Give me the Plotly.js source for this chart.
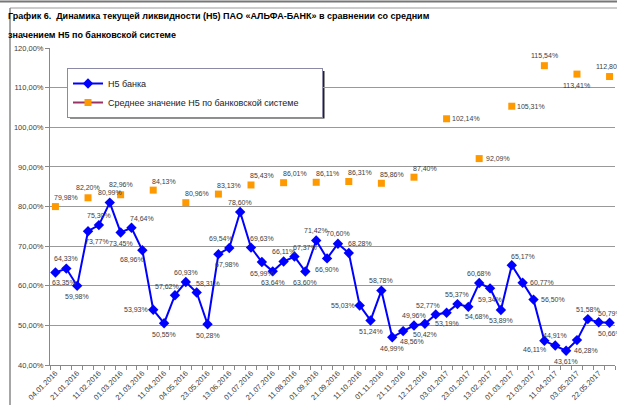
<!DOCTYPE html>
<html>
<head>
<meta charset="utf-8">
<script src="https://cdn.plot.ly/plotly-3.0.1.min.js"></script>
<style>
  html, body { margin: 0; padding: 0; background: #fff; }
  #myPlot { width: 617px; height: 405px; }
</style>
</head>
<body>
<div id="myPlot"></div>
<script>
// tick labels, one per two categories
var dateLabels = ["04.01.2016", "21.01.2016", "11.02.2016", "01.03.2016", "21.03.2016", "11.04.2016",
  "04.05.2016", "23.05.2016", "13.06.2016", "01.07.2016", "21.07.2016", "11.08.2016", "01.09.2016",
  "21.09.2016", "11.10.2016", "01.11.2016", "21.11.2016", "12.12.2016", "03.01.2017", "23.01.2017",
  "13.02.2017", "01.03.2017", "21.03.2017", "11.04.2017", "03.05.2017", "22.05.2017"];

// Н5 банка, every category
var bankValues = [63.35, 64.33, 59.98, 73.77, 75.30, 80.99, 73.45, 74.64, 68.96, 53.93, 50.55, 57.62,
  60.93, 58.31, 50.28, 67.98, 69.54, 78.60, 69.63, 65.99, 63.64, 66.11, 67.37, 63.60, 71.42, 66.90,
  70.60, 68.28, 55.03, 51.24, 58.78, 46.99, 48.56, 49.96, 50.42, 52.77, 53.19, 55.37, 54.68, 60.68,
  59.34, 53.89, 65.17, 60.77, 56.50, 46.11, 44.91, 43.61, 46.28, 51.58, 50.79, 50.66];

// среднее по системе, monthly (every third category)
var avgValues = [79.98, 82.20, 82.96, 84.13, 80.96, 83.13, 85.43, 86.01, 86.11, 86.31, 85.86, 87.40,
  102.14, 92.09, 105.31, 115.54, 113.41, 112.80];

var seriesNames = ["Н5 банка", "Среднее значение Н5 по банковской системе"];

// where each data label sits
var bankLabelPos = ["br", "t", "b", "br", "t", "t", "b", "tr", "bl", "l", "b", "tl", "t", "tr", "b",
  "br", "tl", "t", "tr", "b", "b", "t", "tr", "b", "t", "b", "t", "tr", "l", "b", "t", "b", "br", "t",
  "b", "tl", "b", "t", "br", "t", "b", "b", "tr", "r", "r", "bl", "t", "b", "br", "t", "tr", "b"];
var avgLabelPos = ["tr", "t", "t", "tr", "tr", "tr", "tr", "tr", "tr", "tr", "tr", "tr", "r", "r", "r",
  "t", "b", "t"];

var offsets = {
  t: [0, 10], b: [0, -11], tr: [11, 9], tl: [-8, 9], br: [9, -10], bl: [-10, -9],
  l: [-17, 0], r: [19, 0]
};

var W = 617, H = 405, mL = 50, mR = 2, mT = 48, mB = 40;
var pw = W - mL - mR, ph = H - mT - mB;
function px(x) { return (x - mL) / pw; }
function py(y) { return (H - mB - y) / ph; }

function fmt(v) { return v.toFixed(2).replace(".", ",") + "%"; }

var bankX = bankValues.map(function (v, i) { return i; });

// pad the monthly series with gaps so no line is drawn between the markers
var avgX = [], avgFull = [];
for (var i = 0; i < bankValues.length; i++) { avgX.push(i); avgFull.push(null); }
avgValues.forEach(function (v, i) { avgFull[i * 3] = v; });

var tickVals = dateLabels.map(function (d, i) { return i * 2; });
var minorVals = [];
for (var k = 0; k <= bankValues.length; k++) minorVals.push(k - 0.5);

var labelFont = { family: "Liberation Sans, Arial, sans-serif", size: 7, color: "#404040" };

var annotations = [];
bankValues.forEach(function (v, i) {
  var o = offsets[bankLabelPos[i]];
  annotations.push({ x: i, y: v, text: fmt(v), showarrow: false, xshift: o[0], yshift: o[1],
    font: labelFont, xanchor: "center", yanchor: "middle" });
});
avgValues.forEach(function (v, i) {
  var o = offsets[avgLabelPos[i]];
  annotations.push({ x: i * 3, y: v, text: fmt(v), showarrow: false, xshift: o[0], yshift: o[1],
    font: labelFont, xanchor: "center", yanchor: "middle" });
});

var titleFont = { family: "Liberation Sans, Arial, sans-serif", size: 9, color: "#000" };
annotations.push({ xref: "paper", yref: "paper", x: px(6), y: py(16), xanchor: "left", yanchor: "middle",
  showarrow: false, font: titleFont,
  text: "<b>График 6.  Динамика текущей ликвидности (Н5) ПАО «АЛЬФА-БАНК» в сравнении со средним</b>" });
annotations.push({ xref: "paper", yref: "paper", x: px(6), y: py(35), xanchor: "left", yanchor: "middle",
  showarrow: false, font: titleFont, text: "<b>значением Н5 по банковской системе</b>" });

var shapes = [
  { type: "line", xref: "paper", yref: "paper", x0: px(0), x1: px(W), y0: py(1.5), y1: py(1.5),
    line: { color: "#777", width: 2 } },
  { type: "line", xref: "paper", yref: "paper", x0: px(10), x1: px(W), y0: py(8), y1: py(8),
    line: { color: "#999", width: 1 } },
  { type: "line", xref: "paper", yref: "paper", x0: px(10), x1: px(10), y0: py(8), y1: py(H),
    line: { color: "#888", width: 1.5 } },
  // legend shadow
  { type: "rect", xref: "paper", yref: "paper", x0: px(70), x1: px(324.5), y0: py(71), y1: py(118.5),
    fillcolor: "#222", line: { width: 0 }, layer: "below" }
];

// trailing no-break spaces give the legend box its extra right padding
var pad = "\u00a0\u00a0\u00a0\u00a0\u00a0\u00a0\u00a0";

var data = [
  { x: bankX, y: bankValues, name: seriesNames[0], mode: "lines+markers", type: "scatter",
    line: { color: "#0000ff", width: 2 },
    marker: { symbol: "diamond", size: 8, color: "#0000ff" } },
  { x: avgX, y: avgFull, name: seriesNames[1] + pad, mode: "lines+markers",
    type: "scatter", connectgaps: false,
    line: { color: "#993366", width: 2 },
    marker: { symbol: "square", size: 7, color: "#ff9900" } }
];

var layout = {
  width: W, height: H,
  margin: { l: mL, r: mR, t: mT, b: mB, pad: 0 },
  paper_bgcolor: "#fff", plot_bgcolor: "#fff",
  separators: ", ",
  font: { family: "Liberation Sans, Arial, sans-serif", size: 8, color: "#404040" },
  showlegend: true,
  legend: {
    x: px(67), y: py(68), xanchor: "left", yanchor: "top",
    bgcolor: "#fff", bordercolor: "#8a8aa8", borderwidth: 1,
    font: { family: "Liberation Sans, Arial, sans-serif", size: 9, color: "#222" },
    tracegroupgap: 0, itemwidth: 30
  },
  xaxis: {
    range: [-0.5, bankValues.length - 0.5],
    tickmode: "array", tickvals: tickVals, ticktext: dateLabels,
    tickangle: -45, ticks: "", showgrid: false, zeroline: false,
    showline: true, linecolor: "#888", linewidth: 1,
    tickfont: { family: "Liberation Sans, Arial, sans-serif", size: 7.5, color: "#404040" },
    minor: { tickmode: "array", tickvals: minorVals, ticks: "outside", ticklen: 4,
      tickcolor: "#888", showgrid: false }
  },
  yaxis: {
    range: [40, 120], dtick: 10, tickformat: ".2f", ticksuffix: "%",
    ticks: "outside", ticklen: 4, tickcolor: "#888",
    showline: true, linecolor: "#888", linewidth: 1,
    gridcolor: "#999", gridwidth: 1, zeroline: false,
    tickfont: { family: "Liberation Sans, Arial, sans-serif", size: 7.5, color: "#404040" }
  },
  annotations: annotations,
  shapes: shapes
};

Plotly.newPlot("myPlot", data, layout, { staticPlot: true });
</script>
</body>
</html>
